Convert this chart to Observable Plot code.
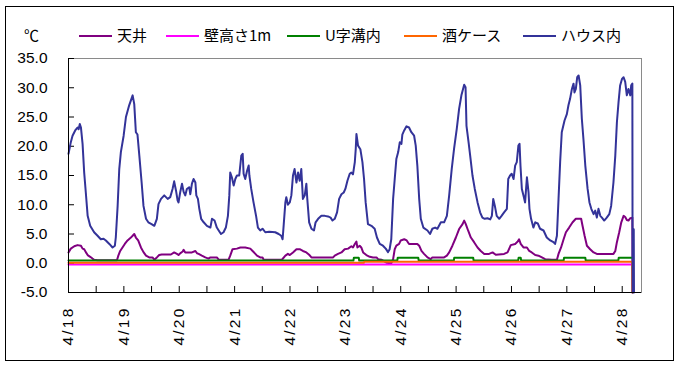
<!DOCTYPE html>
<html><head><meta charset="utf-8">
<script src="https://cdn.jsdelivr.net/npm/d3@7"></script>
<script src="https://cdn.jsdelivr.net/npm/@observablehq/plot@0.6"></script>
<style>
body{margin:0;background:#fff}
#wrap{position:relative;width:681px;height:367px;overflow:hidden;background:#fff}
#border{position:absolute;left:5px;top:6px;width:669px;height:355px;border:1px solid #000;box-sizing:border-box;pointer-events:none}
#chart{position:absolute;left:0;top:0}
.lg{position:absolute;font-family:"Noto Sans CJK JP","Liberation Sans",sans-serif;font-size:15px;line-height:18px;color:#000;white-space:nowrap}
.sw{position:absolute;height:2px}
g[aria-label="x-axis tick label"] text{letter-spacing:2.2px}
</style></head>
<body><div id="wrap"><div id="chart"></div><div id="legend"></div><div id="border"></div></div>
<script>
// ---- data (hours from 4/18 00:00) ----
const dayLabels = ["4/18","4/19","4/20","4/21","4/22","4/23","4/24","4/25","4/26","4/27","4/28"];
const dayTicks = [0,24,48,72,96,120,144,168,192,216,240];
const halfDayTicks = [0,12,24,36,48,60,72,84,96,108,120,132,144,156,168,180,192,204,216,228,240];
const yTicks = [-5,0,5,10,15,20,25,30,35];

const seriesNames = ["天井","壁高さ1m","U字溝内","酒ケース","ハウス内"];
const seriesColors = ["#800080","#FF00FF","#008000","#FF6600","#333399"];

// 天井
const tenT = [0,1,2.5,3.9,5.4,6.1,6.8,7.5,8.3,9.4,10.4,11.1,12.6,15.2,21.0,21.6,22.4,23.4,24.4,25.6,26.8,27.8,28.5,29.2,30.2,31.4,32.5,33.6,35.0,36.4,37.2,38.3,39.3,40.4,44.4,45.8,47.0,47.7,48.4,49.5,49.9,50.6,53.5,55.0,55.7,56.4,57.8,59.3,60.7,61.5,64.3,65.1,69.4,70.1,71.1,73.0,74.5,76.6,78.8,79.8,81.0,81.7,83.1,84.1,84.6,92.5,94.0,95.1,95.9,97.3,98.8,100.2,101.6,103.1,104.3,105.3,114.7,115.4,116.8,118.3,119.7,121.2,122.6,123.3,124.1,124.8,125.2,126.2,126.9,127.7,129.1,130.6,132.0,133.5,134.2,135.6,137.8,139.9,140.7,141.4,142.1,143.3,144.0,145.5,146.6,147.6,151.2,152.0,153.0,154.1,155.6,157.0,157.7,162.8,164.0,165.0,166.4,167.9,169.3,170.8,171.5,172.2,173.2,174.4,175.8,177.3,178.7,180.2,182.3,183.8,185.2,188.8,190.3,191.7,193.6,194.7,195.3,196.0,197.2,198.7,199.7,200.8,202.3,203.7,205.2,206.6,209.5,211.7,212.4,213.5,214.6,215.6,217.0,218.5,219.9,222.2,222.8,223.7,224.7,226.1,227.6,229.0,236.2,237.0,237.7,238.7,239.6,240.6,241.3,242.0,242.7,243.5,244.4,244.5];
const tenV = [1.85,2.5,2.9,3.1,3.0,2.5,2.4,1.9,1.4,1.1,0.8,0.6,0.5,0.5,0.5,1.3,2.1,2.7,3.3,3.9,4.3,4.7,5.0,4.4,3.9,2.7,1.9,1.3,1.0,1.0,0.6,1.0,1.4,1.5,1.5,1.85,1.6,1.4,1.7,2.0,2.3,1.85,1.85,2.1,1.7,1.6,1.3,1.0,0.8,1.0,1.0,0.6,0.6,1.3,2.4,2.5,2.7,2.7,2.5,2.1,1.6,1.3,1.0,1.0,0.6,0.6,1.3,1.6,1.4,1.85,2.4,2.4,2.1,1.85,1.45,1.0,1.0,1.3,1.6,1.85,2.4,2.5,2.9,2.7,3.3,3.7,2.7,3.0,2.7,1.85,1.4,1.1,1.0,1.0,0.7,0.6,0.1,0.0,0.7,2.4,3.0,3.3,3.9,4.1,3.9,3.3,3.3,3.0,2.1,1.6,1.0,0.7,1.0,1.0,1.3,1.85,3.0,4.4,5.85,6.7,7.3,6.7,5.6,4.4,3.6,2.7,2.1,1.6,1.6,1.85,1.45,1.6,1.85,3.1,3.3,3.7,4.1,3.3,2.7,2.7,2.1,1.85,1.4,1.3,1.0,0.7,0.6,0.6,1.6,2.7,4.1,5.3,6.1,7.0,7.6,7.6,6.4,4.7,3.0,2.4,1.85,1.6,1.6,2.1,3.6,5.3,7.0,8.1,7.9,7.4,7.3,7.7,7.8,-5];

// 壁高さ1m
const kabeT = [0,244.5];
const kabeV = [-0.2,-0.2];

// U字溝内
const uT = [0,123.5,123.7,125.8,126.0,142.5,142.7,151.6,151.8,167.0,167.2,175.4,175.6,194.9,195.1,196.0,196.2,214.6,214.8,224.0,224.2,238.3,238.5,244.5];
const uV = [0.45,0.45,0.95,0.95,0.45,0.45,0.95,0.95,0.45,0.45,0.95,0.95,0.45,0.45,0.95,0.95,0.45,0.45,0.95,0.95,0.45,0.45,0.95,0.95];

// 酒ケース
const sakeT = [0,128.0,128.2,244.3,244.4];
const sakeV = [0.1,0.1,0.25,0.25,-5];

// ハウス内
const hausT = [0,1,1.75,2.9,3.9,4.4,4.9,5.4,6.1,6.8,7.5,8.3,9.4,11.1,12.6,14.0,15.2,16.2,17.7,19.1,20.1,20.5,21.3,22.0,22.7,23.9,24.9,26.3,27.8,28.5,29.2,29.9,30.7,31.7,32.5,33.6,34.6,36.0,37.2,38.3,39.0,40.1,41.5,43.0,44.1,45.1,45.8,46.6,47.3,47.7,48.4,49.2,49.9,50.6,51.3,52.3,52.8,53.5,54.2,55.0,55.4,56.1,56.7,57.5,58.6,60.0,61.5,62.2,63.3,64.3,65.1,66.1,67.2,68.2,69.1,69.7,70.1,70.8,71.6,72.3,73.0,74.0,74.9,75.5,75.9,76.6,77.4,78.1,78.4,79.2,80.2,81.3,82.1,83.1,84.1,85.3,87.0,89.6,91.1,92.2,92.8,93.3,94.0,94.4,95.1,95.9,96.6,97.3,98.0,98.8,99.5,100.2,100.9,101.6,102.4,103.1,103.5,104.3,105.3,106.4,107.1,108.2,109.6,111.1,112.5,113.6,114.4,115.4,116.4,117.3,118.3,119.3,120.0,120.9,121.9,122.6,123.3,124.1,124.5,124.8,125.5,126.5,127.4,128.1,128.8,129.8,131.3,132.7,133.7,134.9,136.3,137.5,138.5,139.2,139.9,140.7,141.4,142.1,142.9,143.6,144.3,144.7,145.5,146.5,147.6,148.6,149.8,150.5,151.2,152.0,152.7,153.8,155.6,156.7,157.7,158.9,159.9,161.4,162.8,164.0,165.0,166.1,167.1,168.3,169.3,170.3,171.5,172.1,172.5,173.4,174.1,175.1,176.1,177.3,178.4,179.4,180.4,181.6,182.8,183.5,184.1,184.8,185.6,186.7,187.7,188.8,190.0,190.6,191.4,192.1,192.9,193.6,194.3,195.0,195.5,195.9,196.5,197.2,197.9,198.7,199.4,199.8,200.5,201.5,202.3,203.4,204.4,205.9,207.3,208.8,210.2,210.9,211.7,212.4,213.1,213.8,215.0,216.0,216.7,217.4,218.2,218.9,219.3,219.9,220.5,221.1,221.8,222.5,223.2,224.0,225.0,225.8,226.6,227.6,228.3,229.0,229.7,230.5,231.2,232.2,233.3,234.4,235.2,236.2,237.0,237.7,238.4,239.1,239.9,240.6,241.3,242.0,242.7,243.5,243.9,244.4,244.5,245.0,245.1];
const hausV = [18.7,20.7,21.8,22.7,23.2,22.9,23.8,23.2,20.4,15.5,12.1,8.1,6.4,5.3,4.7,4.1,4.2,3.9,3.3,2.7,3.0,4.4,9.8,16.1,19.0,21.8,25.0,27.0,28.7,27.2,22.4,22.0,18.4,13.8,9.8,7.6,7.0,6.7,6.4,7.6,10.1,11.0,11.6,11.0,11.3,12.7,14.0,12.4,10.7,10.4,12.1,13.6,12.2,11.6,12.7,13.0,11.8,13.6,14.4,13.8,11.6,11.0,9.3,7.6,7.0,6.4,6.1,7.6,7.3,6.1,5.6,5.0,5.3,6.1,8.1,11.6,15.5,14.7,13.3,14.4,15.0,15.0,18.4,18.7,15.3,14.4,15.8,16.7,15.0,12.7,10.4,8.1,6.1,5.6,5.9,5.3,5.4,5.3,5.0,4.7,4.1,6.7,10.4,11.3,10.0,10.4,11.6,15.0,16.1,13.8,15.5,14.1,16.1,11.0,11.6,13.6,11.0,7.0,5.9,5.6,7.0,7.6,8.1,8.1,8.0,7.8,7.3,7.6,8.7,11.0,11.8,12.1,12.7,14.1,15.3,15.5,15.2,17.3,19.5,22.1,20.1,19.5,17.3,14.4,10.4,6.7,6.4,5.9,4.4,3.3,3.0,2.5,1.9,2.4,4.1,11.0,14.4,17.8,19.0,20.7,20.4,22.0,22.7,23.4,23.2,22.4,21.8,20.1,16.7,11.0,7.6,6.1,5.6,5.0,5.9,6.1,5.9,7.0,7.0,8.1,11.6,16.1,19.5,23.0,26.4,28.7,30.5,30.1,23.5,20.7,18.4,15.0,12.7,10.4,8.7,7.8,7.6,7.7,7.5,8.1,11.0,9.8,8.1,7.6,8.1,8.7,9.3,14.4,15.0,15.3,14.4,16.7,17.3,20.1,20.4,16.7,12.7,11.6,10.4,14.7,12.1,9.3,7.6,6.1,7.0,6.8,5.9,5.6,4.4,3.9,3.6,3.3,4.7,11.0,17.3,22.4,24.4,25.5,27.0,28.1,29.8,30.7,29.2,29.8,31.8,32.1,30.4,24.7,21.2,16.7,12.7,10.4,9.3,8.4,9.0,7.8,9.3,8.1,7.8,7.3,7.8,8.4,9.8,13.8,18.4,24.1,27.5,30.4,31.5,31.8,31.0,28.7,29.8,28.7,30.4,30.7,-5,5.8,-5];

const toRows = (T, V) => T.map((t, i) => ({t, v: V[i]}));
const seriesData = [toRows(tenT, tenV), toRows(kabeT, kabeV), toRows(uT, uV), toRows(sakeT, sakeV), toRows(hausT, hausV)];

const W = 681, H = 367, mL = 68, mR = 40, mT = 58, mB = 75;
const innerW = W - mL - mR, innerH = H - mT - mB;

const chart = Plot.plot({
  width: W, height: H,
  marginLeft: mL, marginRight: mR, marginTop: mT, marginBottom: mB,
  x: {domain: [0, 248.36], label: null},
  y: {domain: [-5, 35], label: null},
  style: {background: "transparent", fontFamily: "'Liberation Sans', Arial, sans-serif", fontSize: "15.5px", color: "#000"},
  marks: [
    Plot.frame({stroke: "#8a8a8a"}),
    Plot.axisY(yTicks, {tickSize: 0, tickPadding: 21, tickFormat: d => d.toFixed(1), fill: "#000", label: null}),
    Plot.tickY(yTicks, {y: d => d, stroke: "#000", insetRight: innerW - 6}),
    Plot.axisX(dayTicks, {tickSize: 0, tickRotate: -90, tickPadding: 14, textAnchor: "end", lineAnchor: "middle",
      tickFormat: d => dayLabels[dayTicks.indexOf(d)], fill: "#000", label: null}),
    Plot.tickX(halfDayTicks, {x: d => d, stroke: "#000", insetTop: innerH - 6}),
    ...seriesData.map((rows, i) => Plot.line(rows, {x: "t", y: "v", stroke: seriesColors[i], strokeWidth: 2})),
    Plot.ruleX([0], {stroke: "#000"}),
    Plot.ruleY([-5], {stroke: "#000"})
  ]
});
document.getElementById("chart").appendChild(chart);

// legend
const lg = document.getElementById("legend");
const unit = document.createElement("div");
unit.className = "lg"; unit.textContent = "℃";
unit.style.left = "24px"; unit.style.top = "26px";
lg.appendChild(unit);
const swX = [79, 166, 287, 404, 523];
seriesNames.forEach((name, i) => {
  const s = document.createElement("div");
  s.className = "sw"; s.style.left = swX[i] + "px"; s.style.top = "35px"; s.style.width = "33px";
  s.style.background = seriesColors[i];
  lg.appendChild(s);
  const t = document.createElement("div");
  t.className = "lg"; t.textContent = name;
  t.style.left = (swX[i] + 38) + "px"; t.style.top = "26px";
  lg.appendChild(t);
});
</script></body></html>
